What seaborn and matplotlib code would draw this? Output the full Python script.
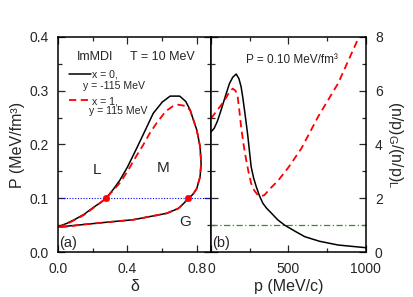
import numpy as np
import pandas as pd
import matplotlib
matplotlib.use("Agg")
import matplotlib.pyplot as plt
import seaborn as sns
from matplotlib.ticker import MultipleLocator, FormatStrFormatter

sns.set_style("ticks")
plt.rcParams['font.family'] = ['Liberation Sans', 'DejaVu Sans']
plt.rcParams['mathtext.fontset'] = 'custom'
plt.rcParams['mathtext.rm'] = 'Liberation Sans'
plt.rcParams['mathtext.it'] = 'Liberation Sans:italic'
plt.rcParams['xtick.direction'] = 'in'
plt.rcParams['ytick.direction'] = 'in'

# (a) binodal curves, P vs delta, walked around the loop (L branch up, G branch back)
delta_x0 = [0.0, 0.05, 0.10, 0.15, 0.20, 0.25, 0.276, 0.32, 0.357, 0.40, 0.453, 0.50,
            0.548, 0.60, 0.645, 0.70, 0.735, 0.76, 0.798, 0.817, 0.823, 0.817, 0.798,
            0.775, 0.75, 0.722, 0.692, 0.626, 0.53, 0.433, 0.30, 0.144, 0.05, 0.0]
p_x0 = [0.047, 0.053, 0.061, 0.070, 0.082, 0.093, 0.100, 0.117, 0.134, 0.158, 0.193, 0.225,
        0.258, 0.279, 0.290, 0.290, 0.280, 0.264, 0.227, 0.196, 0.165, 0.140, 0.118,
        0.107, 0.100, 0.090, 0.081, 0.072, 0.066, 0.060, 0.056, 0.051, 0.048, 0.047]

delta_x1 = [0.0, 0.05, 0.10, 0.15, 0.20, 0.25, 0.276, 0.32, 0.36, 0.40, 0.45, 0.49, 0.53,
            0.568, 0.62, 0.66, 0.69, 0.73, 0.76, 0.798, 0.817, 0.823, 0.817, 0.798,
            0.775, 0.75, 0.722, 0.692, 0.626, 0.53, 0.433, 0.30, 0.144, 0.05, 0.0]
p_x1 = [0.046, 0.052, 0.060, 0.069, 0.081, 0.093, 0.100, 0.115, 0.130, 0.150, 0.178, 0.199,
        0.222, 0.240, 0.262, 0.271, 0.274, 0.272, 0.264, 0.227, 0.196, 0.165, 0.140, 0.118,
        0.107, 0.100, 0.090, 0.081, 0.072, 0.066, 0.060, 0.056, 0.051, 0.047, 0.046]

p_level = 0.10
coex_delta = [0.276, 0.748]
coex_p = [0.10, 0.10]

# (b) isospin fractionation ratio vs momentum
mom_x0 = [0, 20, 40, 65, 90, 119, 140, 162, 180, 194, 205, 216, 227, 238, 248, 259, 275,
          292, 312, 335, 360, 389, 430, 475, 540, 605, 700, 820, 1000]
ratio_x0 = [4.47, 4.6, 4.85, 5.28, 5.75, 6.27, 6.5, 6.62, 6.45, 6.15, 5.75, 5.28, 4.8,
            4.29, 3.75, 3.17, 2.75, 2.43, 2.1, 1.81, 1.62, 1.45, 1.2, 1.0, 0.78, 0.57,
            0.40, 0.26, 0.16]
mom_x1 = [0, 30, 65, 95, 119, 140, 158, 172, 183, 194, 210, 227, 243, 259, 280, 302, 325,
          345, 380, 432, 500, 583, 691, 820, 955]
ratio_x1 = [4.97, 5.2, 5.46, 5.72, 5.96, 6.08, 6.0, 5.77, 5.25, 4.66, 4.0, 3.42, 2.95,
            2.55, 2.28, 2.12, 2.08, 2.12, 2.35, 2.65, 3.15, 3.85, 5.03, 6.27, 8.0]
unity = 1.0

fig = plt.figure(figsize=(4.13, 2.97), dpi=100)
ax1 = fig.add_axes([0.140, 0.1515, 0.371, 0.724])
ax2 = fig.add_axes([0.511, 0.1515, 0.375, 0.724])

df0 = pd.DataFrame({"d": delta_x0, "P": p_x0})
df1 = pd.DataFrame({"d": delta_x1, "P": p_x1})
ax1.axhline(p_level, color="blue", lw=0.8, ls=(0, (1, 1.5)))
sns.lineplot(data=df0, x="d", y="P", sort=False, estimator=None, color="black", lw=1.1,
             ax=ax1, label="x = 0,")
sns.lineplot(data=df1, x="d", y="P", sort=False, estimator=None, color="red", lw=1.3,
             ls=(0, (4, 2.5)), ax=ax1, label="x = 1,")
sns.scatterplot(x=coex_delta, y=coex_p, color="red", s=22, edgecolor="red", ax=ax1, zorder=5)

ax1.set_xlim(0, 0.88)
ax1.set_ylim(0, 0.4)
ax1.xaxis.set_major_locator(MultipleLocator(0.4))
ax1.xaxis.set_minor_locator(MultipleLocator(0.2))
ax1.yaxis.set_major_locator(MultipleLocator(0.1))
ax1.yaxis.set_minor_locator(MultipleLocator(0.05))
ax1.xaxis.set_major_formatter(FormatStrFormatter('%.1f'))
ax1.yaxis.set_major_formatter(FormatStrFormatter('%.1f'))
ax1.tick_params(which='both', top=True, right=True, labelsize=10, width=0.9)
ax1.tick_params(axis='x', pad=7.5)
ax1.tick_params(axis='y', pad=6.5)
ax1.tick_params(which='major', length=5)
ax1.tick_params(which='minor', length=3)
ax1.set_xlabel("δ", fontsize=11.5, labelpad=2)
ax1.set_ylabel("P (MeV/fm³)", fontsize=11.5, labelpad=3)

leg = ax1.legend(loc="upper left", bbox_to_anchor=(0.07, 0.85), frameon=False, fontsize=7.6,
                 handlelength=2.1, handletextpad=0.15, labelspacing=1.6, borderpad=0,
                 borderaxespad=0)
ax1.text(0.163, 0.772, "y = -115 MeV", transform=ax1.transAxes, fontsize=7.6, va="center")
ax1.text(0.203, 0.656, "y = 115 MeV", transform=ax1.transAxes, fontsize=7.6, va="center")
ax1.text(0.125, 0.907, "ImMDI", transform=ax1.transAxes, fontsize=9, va="center")
ax1.text(0.47, 0.907, "T = 10 MeV", transform=ax1.transAxes, fontsize=9, va="center")
ax1.text(0.255, 0.381, "L", transform=ax1.transAxes, fontsize=11, ha="center", va="center")
ax1.text(0.686, 0.39, "M", transform=ax1.transAxes, fontsize=11, ha="center", va="center")
ax1.text(0.83, 0.14, "G", transform=ax1.transAxes, fontsize=11, ha="center", va="center")
ax1.text(0.008, 0.04, "(a)", transform=ax1.transAxes, fontsize=10.5, va="center")

dfb0 = pd.DataFrame({"p": mom_x0, "r": ratio_x0})
dfb1 = pd.DataFrame({"p": mom_x1, "r": ratio_x1})
ax2.axhline(unity, color="#3a8a2a", lw=0.9, ls=(0, (5, 2, 1, 2)))
sns.lineplot(data=dfb0, x="p", y="r", sort=False, estimator=None, color="black", lw=1.1, ax=ax2)
sns.lineplot(data=dfb1, x="p", y="r", sort=False, estimator=None, color="red", lw=1.3,
             ls=(0, (4, 2.5)), ax=ax2)
ax2.set_xlim(0, 1000)
ax2.set_ylim(0, 8)
ax2.xaxis.set_major_locator(MultipleLocator(500))
ax2.xaxis.set_minor_locator(MultipleLocator(250))
ax2.yaxis.set_major_locator(MultipleLocator(2))
ax2.yaxis.set_minor_locator(MultipleLocator(1))
ax2.tick_params(which='both', top=True, left=True, right=True, labelleft=False,
                labelright=True, labelsize=10, width=0.9)
ax2.tick_params(axis='x', pad=7.5)
ax2.tick_params(axis='y', pad=6.5)
ax2.tick_params(which='major', length=5)
ax2.tick_params(which='minor', length=3)
ax2.set_xlabel("p (MeV/c)", fontsize=11.5, labelpad=2)
ax2.yaxis.set_label_position("right")
ax2.set_ylabel(r"(n/p)$_{\mathrm{G}}$/(n/p)$_{\mathrm{L}}$", fontsize=11.5, rotation=270,
               labelpad=16)
ax2.text(0.226, 0.893, "P = 0.10 MeV/fm³", transform=ax2.transAxes, fontsize=8.5, va="center")
ax2.text(0.008, 0.04, "(b)", transform=ax2.transAxes, fontsize=10.5, va="center")

for ax in (ax1, ax2):
    for sp in ax.spines.values():
        sp.set_linewidth(1.1)
        sp.set_color("black")

fig.savefig("out.png", dpi=100)
